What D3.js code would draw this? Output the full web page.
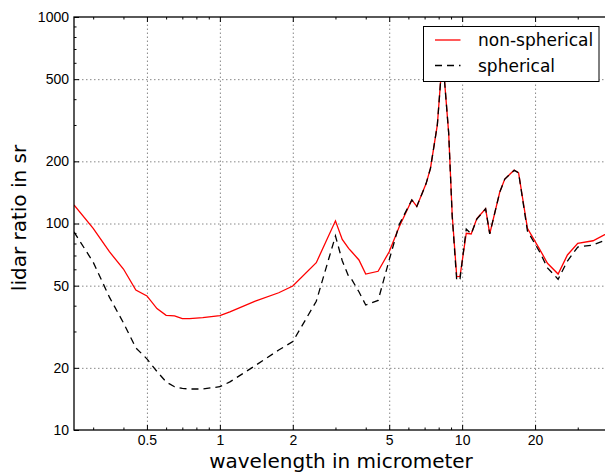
<!DOCTYPE html>
<html>
<head>
<meta charset="utf-8">
<script src="https://cdn.jsdelivr.net/npm/d3@7"></script>
<style>
  body { margin: 0; background: #fff; }
  svg { display: block; font-family: 'DejaVu Sans', sans-serif; }
</style>
</head>
<body>
<div id="chart"></div>
<script>
// wavelength in micrometer
const wavelength = [
  0.25, 0.3, 0.35, 0.4, 0.45, 0.5, 0.55, 0.6, 0.65, 0.7,
  0.75, 0.85, 1.0, 1.1, 1.4, 1.75, 2.0, 2.5, 3.0, 3.2,
  3.4, 3.5, 3.75, 4.0, 4.5, 5.0, 5.5, 6.2, 6.5, 7.1,
  7.4, 7.9, 8.3, 8.8, 9.1, 9.5, 9.8, 10.4, 10.9, 11.5,
  12.5, 13.0, 14.3, 15.0, 16.4, 17.1, 18.6, 20.9, 22.5, 24.9,
  27.2, 30, 34.7, 40,
]
// lidar ratio in sr
const nonSpherical = [
  123, 94.8, 73, 60.2, 47.6, 44.6, 38.7, 35.9, 35.7, 34.6,
  34.6, 35.0, 35.8, 37.3, 42.1, 46.2, 49.8, 64.6, 103, 83.8,
  75.8, 73, 66.6, 56.9, 58.7, 73, 96.5, 130, 121, 156,
  185, 300, 650, 274, 110, 55.3, 55.5, 89.7, 89, 105.7,
  117.8, 89, 142, 164, 181.6, 176, 94.8, 75, 64.2, 56.9,
  70.4, 80.2, 82.5, 90,
]
const spherical = [
  91, 65, 44, 33, 25, 22.1, 19.2, 17.1, 16.2, 15.9,
  15.8, 15.8, 16.2, 17.1, 20.5, 24.4, 26.8, 42, 87, 66,
  55.4, 53.6, 46.7, 40.3, 42.4, 66.6, 99, 130, 121, 156,
  185, 300, 650, 274, 108, 52.8, 54, 94, 89, 105,
  118, 89, 142, 164, 181, 176, 92, 72.8, 61, 53.7,
  65.8, 76.9, 78.7, 84,
]
const seriesNames = ['non-spherical', 'spherical']
const seriesColors = ['#ff0000', '#000000']

const xMajor = [0.5, 1, 2, 5, 10, 20]
const xMinor = [0.3, 0.4, 0.6, 0.7, 0.8, 0.9, 3, 4, 6, 7, 8, 9, 30]
const yMajor = [10, 20, 50, 100, 200, 500, 1000]
const yMinor = [30, 40, 60, 70, 80, 90, 300, 400, 600, 700, 800, 900]

const W = 605
const H = 475
const margin = { top: 17, right: -3, bottom: 45, left: 74 }
const width = W - margin.left - margin.right
const height = H - margin.top - margin.bottom

const svg = d3.select('#chart').append('svg')
  .attr('width', W)
  .attr('height', H)

const bounds = svg.append('g')
  .attr('transform', `translate(${margin.left}, ${margin.top})`)

const xScale = d3.scaleLog().domain([0.25, 40]).range([0, width])
const yScale = d3.scaleLog().domain([10, 1000]).range([height, 0])

svg.append('defs').append('clipPath').attr('id', 'clip')
  .append('rect').attr('width', width).attr('height', height)

// grid
const gridStyle = (g) => {
  g.select('.domain').remove()
  g.selectAll('.tick line')
    .attr('stroke', '#888')
    .attr('stroke-width', 1)
    .attr('stroke-dasharray', '1.5,2.5')
}
bounds.append('g')
  .attr('transform', `translate(0, ${height})`)
  .call(d3.axisBottom(xScale).tickValues(xMajor).tickSize(-height).tickFormat(''))
  .call(gridStyle)
bounds.append('g')
  .call(d3.axisLeft(yScale).tickValues(yMajor.slice(1, -1)).tickSize(-width).tickFormat(''))
  .call(gridStyle)

// lines
const line = (values) => d3.line()
  .x((d, i) => xScale(wavelength[i]))
  .y((d) => yScale(d))(values)

const plot = bounds.append('g').attr('clip-path', 'url(#clip)')
;[nonSpherical, spherical].forEach((values, i) => {
  plot.append('path')
    .attr('d', line(values))
    .attr('fill', 'none')
    .attr('stroke', seriesColors[i])
    .attr('stroke-width', 1.3)
    .attr('stroke-dasharray', i === 1 ? '7,5' : null)
})

// axes with inward ticks on all four sides
const tickStyle = (g) => {
  g.select('.domain').remove()
  g.selectAll('.tick line').attr('stroke', '#000').attr('stroke-width', 1)
  g.selectAll('.tick text').attr('fill', '#000').attr('font-size', 14)
}
const fmt = d3.format('~g')

bounds.append('g')
  .attr('transform', `translate(0, ${height})`)
  .call(d3.axisBottom(xScale).tickValues(xMajor).tickSize(-5).tickPadding(5).tickFormat(fmt))
  .call(tickStyle)
bounds.append('g')
  .attr('transform', `translate(0, ${height})`)
  .call(d3.axisBottom(xScale).tickValues(xMinor).tickSize(-2.5).tickFormat(''))
  .call(tickStyle)
bounds.append('g')
  .call(d3.axisTop(xScale).tickValues(xMajor).tickSize(-5).tickFormat(''))
  .call(tickStyle)
bounds.append('g')
  .call(d3.axisTop(xScale).tickValues(xMinor).tickSize(-2.5).tickFormat(''))
  .call(tickStyle)
bounds.append('g')
  .call(d3.axisLeft(yScale).tickValues(yMajor).tickSize(-5).tickPadding(5).tickFormat(fmt))
  .call(tickStyle)
bounds.append('g')
  .call(d3.axisLeft(yScale).tickValues(yMinor).tickSize(-2.5).tickFormat(''))
  .call(tickStyle)

// frame
bounds.append('rect')
  .attr('width', width)
  .attr('height', height)
  .attr('fill', 'none')
  .attr('stroke', '#000')
  .attr('stroke-width', 1.3)

// axis labels
svg.append('text')
  .attr('x', margin.left + width / 2)
  .attr('y', 467.5)
  .attr('text-anchor', 'middle')
  .attr('font-size', 20)
  .text('wavelength in micrometer')
svg.append('text')
  .attr('transform', `translate(26, 218) rotate(-90)`)
  .attr('text-anchor', 'middle')
  .attr('font-size', 20)
  .text('lidar ratio in sr')

// legend
const legend = svg.append('g').attr('transform', 'translate(423.5, 26.5)')
legend.append('rect')
  .attr('width', 175.5)
  .attr('height', 55)
  .attr('fill', '#fff')
  .attr('stroke', '#000')
  .attr('stroke-width', 1)
seriesNames.forEach((name, i) => {
  const y = 13.5 + i * 25.5
  legend.append('line')
    .attr('x1', 11.5).attr('x2', 37)
    .attr('y1', y).attr('y2', y)
    .attr('stroke', seriesColors[i])
    .attr('stroke-width', 1.3)
    .attr('stroke-dasharray', i === 1 ? '7,5' : null)
  legend.append('text')
    .attr('x', 54.5)
    .attr('y', y + 6)
    .attr('font-size', 17)
    .text(name)
})
</script>
</body>
</html>
